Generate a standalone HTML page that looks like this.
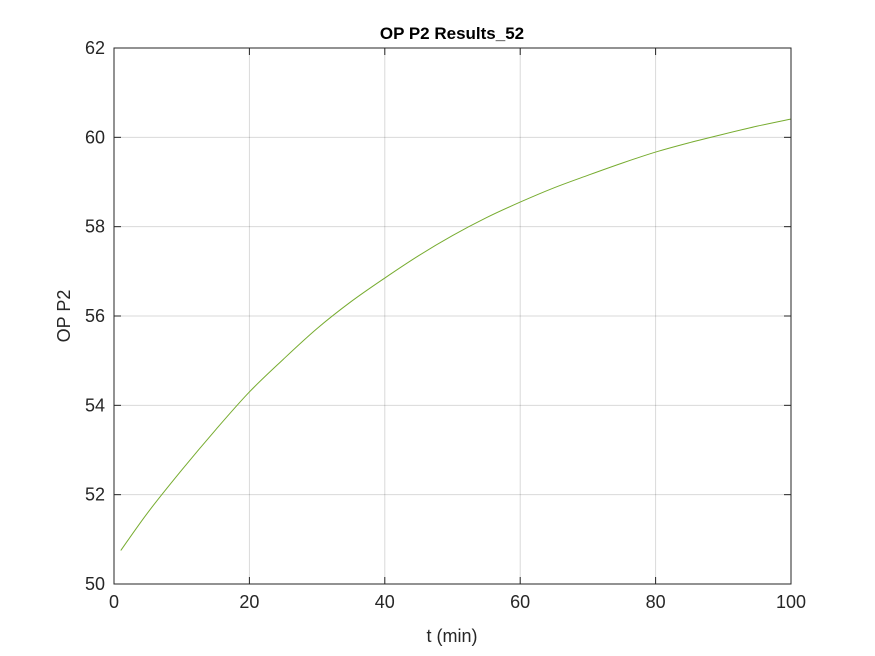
<!DOCTYPE html>
<html>
<head>
<meta charset="utf-8">
<style>
  html,body{margin:0;padding:0;background:#fff;}
  svg{display:block;font-family:"Liberation Sans",sans-serif;}
</style>
</head>
<body>
<svg id="chart" width="875" height="656" viewBox="0 0 875 656">
  <rect x="0" y="0" width="875" height="656" fill="#ffffff"/>
  <g id="grid"></g>
  <g id="series"></g>
  <rect x="114" y="48" width="677" height="536" fill="none" stroke="#262626" stroke-width="1"/>
  <g id="axes"></g>
  <text x="452" y="39" text-anchor="middle" font-size="17" font-weight="bold" fill="#000">OP P2 Results_52</text>
  <text x="452" y="642" text-anchor="middle" font-size="18" fill="#262626">t (min)</text>
  <text x="70" y="316" text-anchor="middle" font-size="18" fill="#262626" transform="rotate(-90 70 316)">OP P2</text>
</svg>
<script>
const tValues = [1,5,10,15,20,25,30,35,40,45,50,55,60,65,70,75,80,85,90,95,100];
const opP2Values = [50.75,51.6,52.55,53.45,54.3,55.03,55.72,56.32,56.85,57.35,57.8,58.2,58.55,58.87,59.15,59.42,59.67,59.88,60.07,60.25,60.41];
const xTicks = [0,20,40,60,80,100];
const yTicks = [50,52,54,56,58,60,62];

const L=114,R=791,T=48,B=584;
const xMin=0,xMax=100,yMin=50,yMax=62;
function xs(v){return L+(v-xMin)/(xMax-xMin)*(R-L);}
function ys(v){return B-(v-yMin)/(yMax-yMin)*(B-T);}
const NS="http://www.w3.org/2000/svg";
const grid=document.getElementById('grid');
const axes=document.getElementById('axes');
const series=document.getElementById('series');
function mk(tag,attrs,parent){const e=document.createElementNS(NS,tag);for(const k in attrs)e.setAttribute(k,attrs[k]);parent.appendChild(e);return e;}

xTicks.forEach(v=>{
  const x=xs(v);
  const g=mk('line',{x1:x,x2:x,y1:T,y2:B,stroke:'#000','stroke-opacity':0.15,'stroke-width':1},grid);
  
  
  const t1=mk('line',{x1:x,x2:x,y1:B,y2:B-7,stroke:'#262626'},axes);
  
  
  const t2=mk('line',{x1:x,x2:x,y1:T,y2:T+7,stroke:'#262626'},axes);
  
  
  const lb=mk('text',{x:x,y:B+24,'text-anchor':'middle','font-size':18,fill:'#262626'},axes);
  lb.textContent=v;
  
  
});
yTicks.forEach(v=>{
  const y=ys(v);
  const g=mk('line',{x1:L,x2:R,y1:y,y2:y,stroke:'#000','stroke-opacity':0.15,'stroke-width':1},grid);
  
  
  const t1=mk('line',{x1:L,x2:L+7,y1:y,y2:y,stroke:'#262626'},axes);
  
  
  const t2=mk('line',{x1:R,x2:R-7,y1:y,y2:y,stroke:'#262626'},axes);
  
  
  const lb=mk('text',{x:L-9,y:y+6,'text-anchor':'end','font-size':18,fill:'#262626'},axes);
  lb.textContent=v;
  
  
});
// smooth path through data points (Catmull-Rom -> cubic Bezier)
const P=tValues.map((t,i)=>[xs(t),ys(opP2Values[i])]);
let d='M'+P[0][0].toFixed(2)+','+P[0][1].toFixed(2);
for(let i=0;i<P.length-1;i++){
  const p0=P[Math.max(0,i-1)],p1=P[i],p2=P[i+1],p3=P[Math.min(P.length-1,i+2)];
  const c1=[p1[0]+(p2[0]-p0[0])/6,p1[1]+(p2[1]-p0[1])/6];
  const c2=[p2[0]-(p3[0]-p1[0])/6,p2[1]-(p3[1]-p1[1])/6];
  d+=' C'+c1[0].toFixed(2)+','+c1[1].toFixed(2)+' '+c2[0].toFixed(2)+','+c2[1].toFixed(2)+' '+p2[0].toFixed(2)+','+p2[1].toFixed(2);
}
const pl=mk('path',{d:d,fill:'none',stroke:'#77AC30','stroke-width':1},series);


</script>
</body>
</html>
